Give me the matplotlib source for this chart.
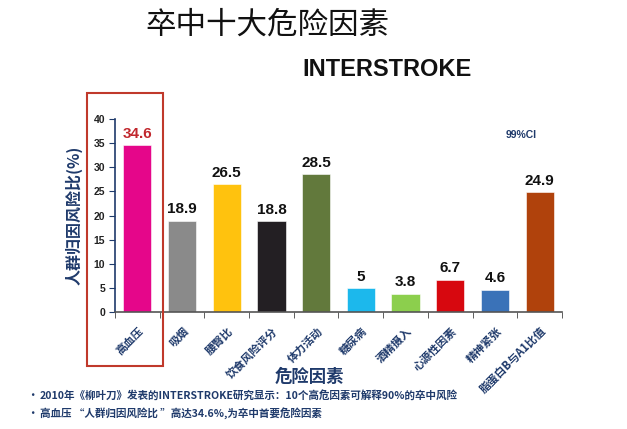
import matplotlib
matplotlib.use("Agg")
import matplotlib.pyplot as plt
import matplotlib.patches as mpatches
from matplotlib.ticker import FixedLocator, NullFormatter

plt.rcParams["font.family"] = ["Noto Sans CJK SC", "DejaVu Sans"]

categories = ["高血压", "吸烟", "腰臀比", "饮食风险评分", "体力活动",
              "糖尿病", "酒精摄入", "心源性因素", "精神紧张", "脂蛋白B与A1比值"]
values = [34.6, 18.9, 26.5, 18.8, 28.5, 5, 3.8, 6.7, 4.6, 24.9]
value_labels = ["34.6", "18.9", "26.5", "18.8", "28.5", "5", "3.8", "6.7", "4.6", "24.9"]
yticks = [0, 5, 10, 15, 20, 25, 30, 35, 40]

bar_colors = ["#e5068a", "#8a8a8a", "#ffc20e", "#231f23", "#62793c",
              "#1cb8ec", "#8ccf4d", "#d7080f", "#3a72b8", "#b0420c"]
navy = "#1f3a6b"

fig = plt.figure(figsize=(6.27, 4.29), dpi=100)
ax = fig.add_axes([0.1834, 0.2727, 0.7129, 0.4499])

x = list(range(len(categories)))
ax.bar(x, values, width=0.63, color=bar_colors, edgecolor="#ffffff", linewidth=0.4, zorder=2)

for xi, v, lab in zip(x, values, value_labels):
    col = "#c1272d" if xi == 0 else "#111111"
    ax.text(xi, v + 0.9, lab, ha="center", va="bottom", fontsize=11,
            fontweight="bold", color=col, family=["Liberation Sans", "DejaVu Sans"])

ax.set_xlim(-0.5, len(categories) - 0.5)
ax.set_ylim(0, 40)
ax.set_yticks(yticks)
ax.set_yticklabels([str(t) for t in yticks], fontsize=7.5, fontweight="bold",
                   color="#222222", family=["Liberation Sans", "DejaVu Sans"])

# category labels rotated, ticks at the boundaries
ax.set_xticks(x)
ax.set_xticklabels(categories, rotation=45, ha="right", va="top", rotation_mode="anchor",
                   fontsize=8, fontweight="bold", color=navy)
ax.tick_params(axis="x", which="major", length=0, pad=9)
ax.xaxis.set_minor_locator(FixedLocator([i + 0.5 for i in range(-1, len(categories))]))
ax.xaxis.set_minor_formatter(NullFormatter())
ax.tick_params(axis="x", which="minor", length=4, direction="out", color="#444444")
ax.tick_params(axis="y", length=4, direction="out", color=navy, pad=3)

for s in ["top", "right"]:
    ax.spines[s].set_visible(False)
ax.spines["left"].set_color(navy)
ax.spines["left"].set_linewidth(1.2)
ax.spines["bottom"].set_color("#555555")
ax.spines["bottom"].set_linewidth(1.2)

ax.set_ylabel("人群归因风险比(%)", fontsize=11.5, fontweight="bold", color=navy, labelpad=8)

# titles and notes
fig.text(0.426, 0.942, "卒中十大危险因素", ha="center", va="center", fontsize=22,
         fontweight="medium", color="#111111")
fig.text(0.483, 0.837, "INTERSTROKE", ha="left", va="center", fontsize=17, fontweight="bold",
         color="#111111", family=["Liberation Sans", "DejaVu Sans"])
fig.text(0.831, 0.685, "99%CI", ha="center", va="center", fontsize=7.5, fontweight="bold",
         color=navy, family=["Liberation Sans", "DejaVu Sans"])
fig.text(0.494, 0.121, "危险因素", ha="center", va="center", fontsize=12.5, fontweight="bold", color=navy)

fig.text(0.052, 0.079, "•", ha="center", va="center", fontsize=9, color=navy)
fig.text(0.063, 0.079, "2010年《柳叶刀》发表的INTERSTROKE研究显示：10个高危因素可解释90%的卒中风险",
         ha="left", va="center", fontsize=7.6, fontweight="bold", color=navy)
fig.text(0.052, 0.037, "•", ha="center", va="center", fontsize=9, color=navy)
fig.text(0.063, 0.037, "高血压 “人群归因风险比 ”高达34.6%,为卒中首要危险因素",
         ha="left", va="center", fontsize=7.6, fontweight="bold", color=navy)

# highlight box around the first category
fig.patches.append(mpatches.Rectangle((0.1388, 0.1469), 0.1212, 0.6364, transform=fig.transFigure,
                                      fill=False, edgecolor="#c0392b", linewidth=1.5))

fig.savefig("out.png", dpi=100, facecolor="white")
